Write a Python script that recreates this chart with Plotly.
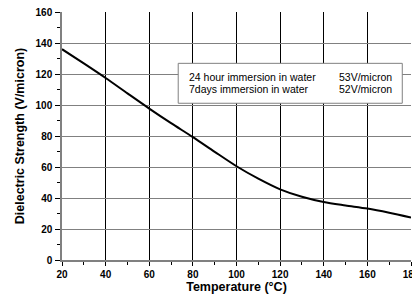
import plotly.graph_objects as go

temperature = [20, 30, 40, 50, 60, 70, 80, 90, 100, 110, 120, 130, 140, 150, 160, 170, 180]
strength = [136.0, 126.8, 117.4, 107.5, 97.7, 88.3, 79.3, 69.8, 60.5, 52.5, 45.6, 40.8, 37.4, 35.2, 33.2, 30.5, 27.4]

legend_labels = ["24 hour immersion in water", "7days immersion in water"]
legend_values = ["53V/micron", "52V/micron"]

fig = go.Figure()
fig.add_trace(go.Scatter(x=temperature, y=strength, mode="lines",
                         line=dict(color="black", width=2, shape="spline", smoothing=0.8),
                         hoverinfo="skip", showlegend=False))

tick_font = dict(family="Liberation Sans, Arial", size=10, color="black", weight="bold")
title_font = dict(family="Liberation Sans, Arial", size=12.5, color="black", weight="bold")

fig.update_layout(
    width=412, height=301,
    margin=dict(l=62, r=1, t=12, b=41),
    paper_bgcolor="white", plot_bgcolor="white",
    showlegend=False,
    xaxis=dict(range=[20, 180], dtick=20, tick0=0, showgrid=True, gridcolor="black", gridwidth=1,
               zeroline=False, showline=True, linecolor="#808080", linewidth=1.5,
               ticks="outside", ticklen=4, tickcolor="black", tickwidth=1,
               tickfont=tick_font, ticklabeloverflow="allow", automargin=False,
               minor=dict(dtick=10, tick0=0, ticks="outside", ticklen=3, tickcolor="black", showgrid=False),
               title=dict(text="Temperature (°C)", font=title_font, standoff=0)),
    yaxis=dict(range=[0, 160], dtick=20, tick0=0, showgrid=True, gridcolor="#808080", gridwidth=1,
               zeroline=False, showline=True, linecolor="#808080", linewidth=1.5,
               ticks="outside", ticklen=5, tickcolor="black", tickwidth=1,
               tickfont=tick_font, ticklabelstandoff=1,
               minor=dict(dtick=10, tick0=0, ticks="outside", ticklen=3, tickcolor="black", showgrid=False),
               title=dict(text="Dielectric Strength (V/micron)", font=title_font, standoff=8)),
)

fig.add_shape(type="rect", xref="paper", yref="paper", x0=0.333, x1=0.975, y0=0.632, y1=0.793,
              line=dict(color="#808080", width=1), fillcolor="white", layer="above")

legend_font = dict(family="Liberation Sans, Arial", size=10.5, color="black")
row_y = [0.739, 0.688]
for i in range(len(legend_labels)):
    fig.add_annotation(xref="paper", yref="paper", x=0.357, y=row_y[i], text=legend_labels[i],
                       showarrow=False, xanchor="left", yanchor="middle", font=legend_font)
    fig.add_annotation(xref="paper", yref="paper", x=0.787, y=row_y[i], text=legend_values[i],
                       showarrow=False, xanchor="left", yanchor="middle", font=legend_font)

fig.write_html("out.html", config={"displayModeBar": False},
               post_script="document.body.style.margin='0';")
